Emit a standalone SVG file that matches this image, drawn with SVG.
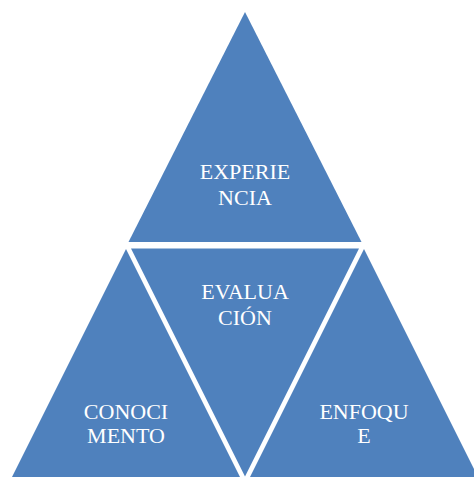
<svg xmlns="http://www.w3.org/2000/svg" width="474" height="477" viewBox="0 0 474 477">
<style>
.tri{fill:#4F81BD;}
.lbl{font-family:"Liberation Serif","Times New Roman",serif;font-size:22px;fill:#FFFFFF;text-anchor:middle;}
</style>
<rect x="0" y="0" width="474" height="477" fill="#FFFFFF"/>
<g id="connectors"></g>
<g id="node-experiencia">
<polygon class="tri" points="245,12 128.5,242 361.5,242"/>
<text class="lbl" x="245" y="179">EXPERIE</text>
<text class="lbl" x="245" y="205">NCIA</text>
</g>
<g id="node-evaluacion">
<polygon class="tri" points="131,248.5 359,248.5 245,476.5"/>
<text class="lbl" x="245" y="299">EVALUA</text>
<text class="lbl" x="245" y="325">CIÓN</text>
</g>
<g id="node-conocimiento">
<polygon class="tri" points="126,249 12,477 240,477"/>
<text class="lbl" x="126" y="419">CONOCI</text>
<text class="lbl" x="126" y="443">MENTO</text>
</g>
<g id="node-enfoque">
<polygon class="tri" points="364,249 250,477 478,477"/>
<text class="lbl" x="364" y="419">ENFOQU</text>
<text class="lbl" x="364" y="443">E</text>
</g>
</svg>
